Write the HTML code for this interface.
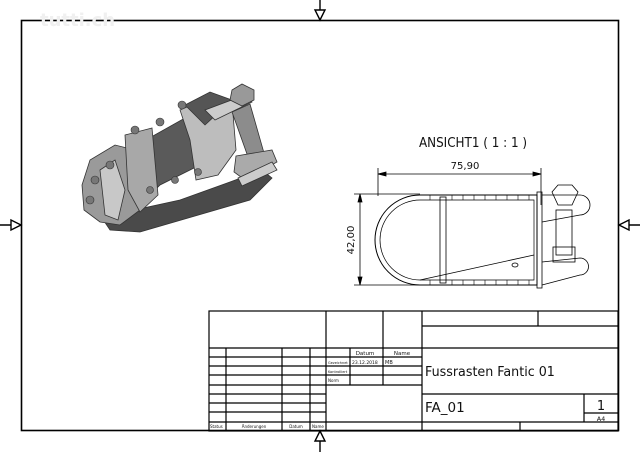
<!DOCTYPE html>
<html><head><style>
html,body{margin:0;padding:0;background:#fff;}
svg{display:block;}
text{font-family:"DejaVu Sans","Liberation Sans",sans-serif;fill:#111;}
</style></head><body>
<svg width="640" height="452" viewBox="0 0 640 452" xmlns="http://www.w3.org/2000/svg">
<rect width="640" height="452" fill="#fff"/>
<rect x="21.5" y="20.5" width="597" height="410" fill="none" stroke="#000" stroke-width="1.6"/>
<g stroke="#000" stroke-width="1.4" fill="#fff">
<line x1="320" y1="0" x2="320" y2="20"/><polygon points="320,20 315,10 325,10"/>
<line x1="320" y1="431" x2="320" y2="452"/><polygon points="320,431 315,441 325,441"/>
<line x1="0" y1="225" x2="21" y2="225"/><polygon points="21,225 11,220 11,230"/>
<line x1="619" y1="225" x2="640" y2="225"/><polygon points="619,225 629,220 629,230"/>
</g>
<text x="40" y="26" font-size="18" font-weight="bold" style="fill:#f0f0f0">tutti.ch</text>

<!-- 3D model approximation -->
<g stroke="#333" stroke-width="0.8">
<polygon points="100,215 110,230 140,232 250,200 272,178 262,170 230,182 180,200 125,212" fill="#4a4a4a"/>
<polygon points="82,185 90,160 115,145 135,150 140,210 120,225 100,222 84,210" fill="#9a9a9a"/>
<polygon points="100,170 115,160 125,190 118,220 105,215" fill="#c8c8c8"/>
<polygon points="128,150 185,118 230,108 235,150 200,165 160,185 145,200" fill="#5a5a5a"/>
<polygon points="125,135 152,128 158,195 140,212 128,190" fill="#a8a8a8"/>
<polygon points="180,110 215,95 232,102 236,150 218,175 196,180 190,140" fill="#bdbdbd"/>
<polygon points="185,105 210,92 232,100 205,125" fill="#555"/>
<polygon points="205,110 245,95 252,102 215,120" fill="#ccc"/>
<polygon points="232,112 250,104 266,160 252,168" fill="#8c8c8c"/>
<polygon points="232,90 242,84 254,90 254,100 242,106 230,100" fill="#999"/>
<polygon points="236,156 272,150 277,162 245,180 234,172" fill="#aaa"/>
<polygon points="238,178 272,162 277,170 242,186" fill="#ccc"/>
</g>
<g fill="#777" stroke="#333" stroke-width="0.6">
<circle cx="135" cy="130" r="4"/><circle cx="160" cy="122" r="4"/><circle cx="182" cy="105" r="4"/>
<circle cx="95" cy="180" r="4"/><circle cx="90" cy="200" r="4"/><circle cx="110" cy="165" r="4"/>
<circle cx="150" cy="190" r="3.5"/><circle cx="175" cy="180" r="3.5"/><circle cx="198" cy="172" r="3.5"/>
</g>

<!-- ANSICHT view -->
<text x="473" y="147" font-size="13" text-anchor="middle" transform="translate(473,0) scale(0.92,1) translate(-473,0)">ANSICHT1 ( 1 : 1 )</text>
<g stroke="#000" stroke-width="0.8" fill="none">
<line x1="378" y1="174" x2="541" y2="174"/>
<line x1="378" y1="168" x2="378" y2="196"/><line x1="541" y1="168" x2="541" y2="205"/>
<polygon points="378,174 386,172 386,176" fill="#000"/><polygon points="541,174 533,172 533,176" fill="#000"/>
<line x1="360" y1="194" x2="360" y2="285"/>
<line x1="354" y1="194" x2="420" y2="194"/><line x1="354" y1="285" x2="420" y2="285"/>
<polygon points="360,194 358,202 362,202" fill="#000"/><polygon points="360,285 358,277 362,277" fill="#000"/>
<path d="M420,195 L537,195 L537,285 L420,285 A45,45 0 0 1 420,195 Z" stroke-width="1"/>
<path d="M420,200 L534,200 L534,280 L420,280 A40,40 0 0 1 420,200 Z" stroke-width="0.7"/>
<rect x="440" y="197" width="6" height="86"/>
<line x1="420" y1="280" x2="534" y2="255"/>
<ellipse cx="515" cy="265" rx="3" ry="2"/>
<rect x="537" y="192" width="5" height="96"/>
<path d="M542,195 L580,195 A8,8 0 0 1 580,215 L542,222"/>
<path d="M542,262 L580,258 A8,8 0 0 1 580,275 L542,285"/>
<polygon points="552,192 558,185 572,185 578,192 572,205 558,205"/>
<rect x="556" y="210" width="16" height="45"/>
<rect x="553" y="247" width="22" height="15"/>
</g>
<g stroke="#000" stroke-width="0.6">
<line x1="430" y1="195" x2="430" y2="200"/><line x1="452" y1="195" x2="452" y2="200"/><line x1="463" y1="195" x2="463" y2="200"/><line x1="474" y1="195" x2="474" y2="200"/><line x1="485" y1="195" x2="485" y2="200"/><line x1="496" y1="195" x2="496" y2="200"/><line x1="507" y1="195" x2="507" y2="200"/><line x1="518" y1="195" x2="518" y2="200"/><line x1="529" y1="195" x2="529" y2="200"/>
<line x1="430" y1="280" x2="430" y2="285"/><line x1="452" y1="280" x2="452" y2="285"/><line x1="463" y1="280" x2="463" y2="285"/><line x1="474" y1="280" x2="474" y2="285"/><line x1="485" y1="280" x2="485" y2="285"/><line x1="496" y1="280" x2="496" y2="285"/><line x1="507" y1="280" x2="507" y2="285"/><line x1="518" y1="280" x2="518" y2="285"/><line x1="529" y1="280" x2="529" y2="285"/>
</g>
<text x="465" y="169" font-size="10" text-anchor="middle">75,90</text>
<text x="0" y="0" font-size="10" text-anchor="middle" transform="translate(354,240) rotate(-90)">42,00</text>

<!-- Title block -->
<g stroke="#000" stroke-width="1.2" fill="none">
<rect x="209" y="311" width="409" height="120"/>
<line x1="326" y1="311" x2="326" y2="431"/>
<line x1="383" y1="311" x2="383" y2="385"/>
<line x1="422" y1="311" x2="422" y2="431"/>
<line x1="422" y1="326" x2="618" y2="326"/>
<line x1="538" y1="311" x2="538" y2="326"/>
<line x1="209" y1="348" x2="618" y2="348"/>
<line x1="422" y1="394" x2="618" y2="394"/>
<line x1="209" y1="422" x2="618" y2="422"/>
<line x1="584" y1="394" x2="584" y2="422"/>
<line x1="584" y1="413" x2="618" y2="413"/>
<line x1="520" y1="422" x2="520" y2="431"/>
<line x1="226" y1="348" x2="226" y2="431"/>
<line x1="282" y1="348" x2="282" y2="431"/>
<line x1="310" y1="348" x2="310" y2="431"/>
<line x1="209" y1="357" x2="422" y2="357"/>
<line x1="209" y1="366" x2="422" y2="366"/>
<line x1="209" y1="375" x2="422" y2="375"/>
<line x1="209" y1="385" x2="422" y2="385"/>
<line x1="209" y1="394" x2="326" y2="394"/>
<line x1="209" y1="403" x2="326" y2="403"/>
<line x1="209" y1="412" x2="326" y2="412"/>
<line x1="350" y1="348" x2="350" y2="385"/>
</g>
<g font-size="4">
<text x="365" y="355" font-size="5.5" text-anchor="middle">Datum</text>
<text x="402" y="355" font-size="5.5" text-anchor="middle">Name</text>
<text x="328" y="364" font-size="3.5">Gezeichnet</text>
<text x="352" y="364" font-size="4.5">23.12.2018</text>
<text x="385" y="364" font-size="5">MB</text>
<text x="328" y="373" font-size="3.5">Kontrolliert</text>
<text x="328" y="382">Norm</text>
<text x="210" y="428">Status</text>
<text x="254" y="428" text-anchor="middle">Änderungen</text>
<text x="296" y="428" text-anchor="middle">Datum</text>
<text x="312" y="428">Name</text>
</g>
<text x="425" y="376" font-size="13.5" transform="translate(425,0) scale(0.94,1) translate(-425,0)">Fussrasten Fantic 01</text>
<text x="425" y="412" font-size="13.5">FA_01</text>
<text x="601" y="410" font-size="13" text-anchor="middle">1</text>
<text x="601" y="421" font-size="6.5" text-anchor="middle">A4</text>
</svg>
</body></html>
